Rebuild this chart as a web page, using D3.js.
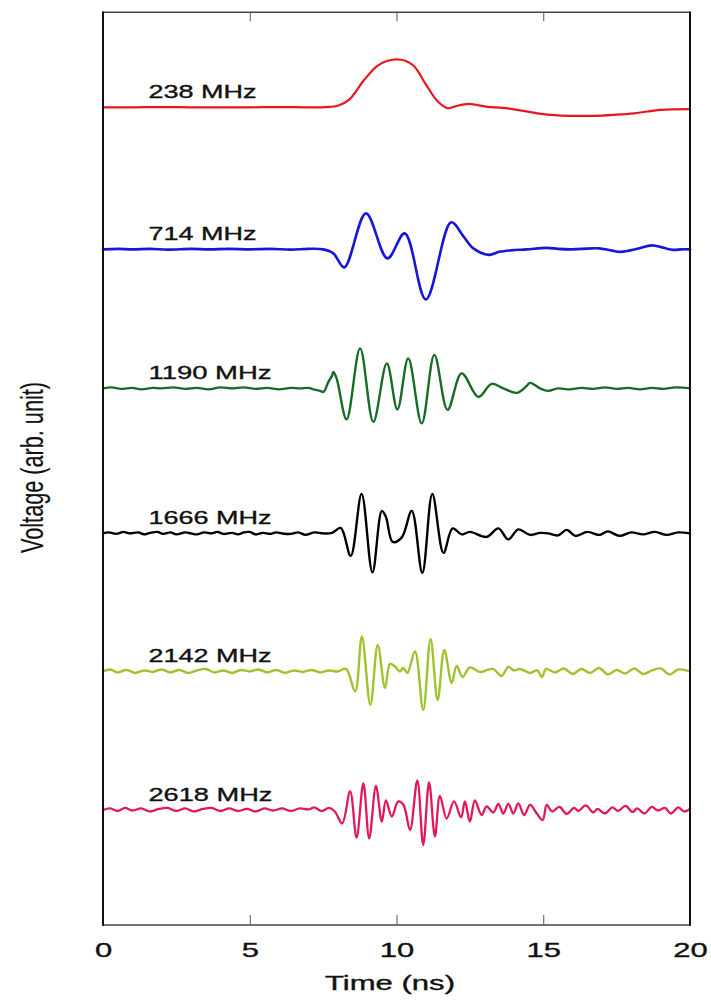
<!DOCTYPE html>
<html>
<head>
<meta charset="utf-8">
<script src="https://cdn.jsdelivr.net/npm/d3@7"></script>
<style>
  body { margin: 0; background: #fff; }
  text { font-family: "Liberation Sans", Arial, Helvetica, sans-serif; fill: #111; stroke: #111; stroke-width: 0.35px; }
</style>
</head>
<body>
<svg id="chart" width="711" height="1000"></svg>
<script>
// ---- data -------------------------------------------------------------
const xTicks = [0, 5, 10, 15, 20];
const seriesLabels = ["238 MHz", "714 MHz", "1190 MHz", "1666 MHz", "2142 MHz", "2618 MHz"];
// vertical offset of each trace (arb. unit)
const offsets = [16.35, 13.51, 10.73, 7.83, 5.07, 2.30];

// [time (ns), voltage (arb. unit)]
const wave238 = [[0,0],[1,0],[2,0.005],[3,0],[4,0],[5,0],[6,0.005],[7,0],[7.6,0.005],[8.0,0.03],[8.4,0.16],
  [8.9,0.55],[9.35,0.83],[9.7,0.93],[10.0,0.96],[10.3,0.93],[10.6,0.82],[11.0,0.46],[11.4,0.12],[11.75,-0.02],
  [12.0,0.02],[12.45,0.07],[12.8,0.04],[13.1,0.01],[13.8,-0.02],[14.8,-0.12],[15.5,-0.16],[16.1,-0.17],
  [16.7,-0.17],[17.4,-0.15],[18.1,-0.12],[19.0,-0.05],[20,-0.035]];

const wave714 = [[0,0],[0.5,0.01],[1,0],[1.6,0.01],[2.2,-0.005],[3,0.01],[3.6,0],[4.3,0.01],[5,0],[5.7,0.01],
  [6.4,-0.005],[7,0.01],[7.5,0],[7.85,-0.08],[8.22,-0.36],[8.96,0.72],[9.69,-0.18],[10.28,0.32],[11.0,-1.0],
  [11.86,0.54],[12.28,0.26],[12.62,0.02],[13.15,-0.11],[13.5,-0.05],[13.9,-0.02],[14.44,0],[15.12,0.03],
  [15.5,0.01],[15.9,0],[16.3,0.01],[16.9,0.02],[17.3,-0.02],[17.65,-0.05],[18.2,0.01],[18.7,0.08],[19.1,0.03],
  [19.42,-0.01],[19.7,0],[20,0]];

const wave1190 = [[0,0],[0.3,0.02],[0.6,-0.01],[1,0.01],[1.3,-0.02],[1.7,0.01],[2,0],[2.4,0.02],[2.8,-0.01],
  [3.2,0.01],[3.6,-0.02],[4,0.02],[4.4,0],[4.8,0.02],[5.2,-0.01],[5.6,0.01],[6.0,-0.02],[6.4,0.01],[6.71,0],
  [7.0,0.01],[7.17,-0.02],[7.4,-0.05],[7.51,-0.07],[7.68,0.13],[7.8,0.25],[7.85,0.33],[7.96,0.2],[8.30,-0.62],
  [8.76,0.80],[9.21,-0.67],[9.67,0.50],[10.03,-0.42],[10.40,0.60],[10.86,-0.70],[11.29,0.67],[11.74,-0.43],
  [12.22,0.30],[12.79,-0.17],[13.24,0.09],[13.64,0],[14.10,-0.09],[14.4,0.03],[14.55,0.11],[14.89,0],
  [15.17,-0.05],[15.5,0],[15.9,-0.02],[16.3,0.01],[16.7,-0.01],[17.1,0.02],[17.5,-0.01],[17.9,0.01],
  [18.3,-0.02],[18.7,0.01],[19.1,-0.01],[19.5,0.02],[20,0]];

const wave1666 = [[0,0],[0.2,0.02],[0.45,-0.01],[0.7,0.03],[0.9,0],[1.2,0.02],[1.4,-0.02],[1.6,0.01],[1.85,0.03],
  [2.05,-0.01],[2.3,0.02],[2.5,-0.02],[2.8,0.02],[3.0,0],[3.2,-0.02],[3.45,0.02],[3.7,0],[3.9,0.03],[4.1,-0.01],
  [4.4,0.01],[4.6,-0.02],[4.8,0.02],[5.0,0.03],[5.2,-0.02],[5.45,0.01],[5.7,-0.01],[5.9,0.02],[6.1,0],
  [6.4,-0.01],[6.65,0.02],[6.9,-0.03],[7.2,0.02],[7.5,0],[7.8,0.01],[8.10,0.11],[8.44,-0.45],[8.81,0.79],
  [9.18,-0.78],[9.50,0.45],[9.64,0.33],[9.87,-0.17],[10.18,-0.08],[10.52,0.45],[10.88,-0.79],[11.22,0.79],
  [11.60,-0.39],[11.91,0.10],[12.22,-0.02],[12.50,0.03],[13.07,-0.07],[13.47,0.10],[13.81,-0.12],[14.15,0.08],
  [14.55,-0.03],[14.89,0.01],[15.17,0],[15.5,-0.04],[15.8,0.07],[16.1,-0.05],[16.5,0.03],[16.9,-0.03],
  [17.2,0.04],[17.6,-0.05],[18.0,0.02],[18.4,-0.02],[18.8,0.03],[19.2,-0.03],[19.6,0.02],[20,0]];

const wave2142 = [[0,0],[0.25,0.04],[0.5,-0.02],[0.8,0.03],[1.1,-0.03],[1.4,0.02],[1.7,-0.01],[2.0,0.04],
  [2.3,-0.02],[2.6,0.03],[2.9,-0.03],[3.2,0.02],[3.5,0.05],[3.8,-0.02],[4.1,0.02],[4.4,-0.03],[4.7,0.03],
  [5.0,0],[5.3,0.04],[5.6,-0.02],[5.9,0.03],[6.2,-0.03],[6.5,0.02],[6.8,-0.01],[7.1,0.03],[7.4,-0.02],
  [7.7,0.02],[8.0,0],[8.28,0.05],[8.59,-0.40],[8.82,0.70],[9.11,-0.67],[9.36,0.53],[9.61,-0.33],[9.78,0.15],
  [9.95,0.10],[10.12,0],[10.23,0.07],[10.37,-0.03],[10.63,0.40],[10.91,-0.77],[11.16,0.65],[11.40,-0.57],
  [11.63,0.43],[11.88,-0.23],[12.05,0.11],[12.25,-0.11],[12.50,0.08],[12.85,-0.01],[13.10,0.03],[13.30,0.05],
  [13.58,-0.09],[13.81,0.09],[14.0,0.02],[14.21,0.05],[14.55,-0.03],[14.8,0.02],[14.95,-0.11],[15.1,0.05],
  [15.4,-0.02],[15.7,0.06],[16.0,-0.05],[16.3,0.05],[16.6,-0.03],[16.9,0.07],[17.2,-0.06],[17.5,0.03],
  [17.8,-0.04],[18.1,0.06],[18.4,-0.05],[18.7,0.02],[19.0,0.06],[19.3,-0.06],[19.6,0.04],[20,0]];

const wave2618 = [[0,0],[0.25,0.03],[0.5,-0.02],[0.75,0.04],[1.0,-0.01],[1.3,0.03],[1.6,-0.03],[1.9,0.02],
  [2.2,0.04],[2.5,-0.02],[2.8,0.03],[3.1,-0.03],[3.4,0.02],[3.7,0.04],[4.0,-0.02],[4.3,0.03],[4.6,-0.02],
  [4.9,0.02],[5.2,-0.03],[5.5,0.03],[5.8,-0.01],[6.1,0.03],[6.4,-0.02],[6.7,0.03],[7.0,0.01],[7.2,0.05],
  [7.45,-0.02],[7.7,0.04],[7.9,-0.03],[8.15,-0.27],[8.42,0.37],[8.64,-0.55],[8.87,0.53],[9.07,-0.57],
  [9.30,0.48],[9.50,-0.23],[9.64,0.19],[9.84,-0.13],[10.06,0.17],[10.24,0.10],[10.46,-0.40],[10.71,0.59],
  [10.91,-0.70],[11.11,0.55],[11.31,-0.53],[11.48,0.28],[11.71,-0.17],[11.96,0.17],[12.2,-0.15],[12.33,0.17],
  [12.50,-0.23],[12.67,0.19],[12.90,-0.10],[13.07,0.07],[13.30,-0.05],[13.47,0.12],[13.64,-0.07],[13.81,0.12],
  [13.98,-0.07],[14.15,0.13],[14.35,-0.10],[14.55,0.10],[14.78,-0.07],[14.98,-0.20],[15.12,0.10],[15.3,-0.03],
  [15.55,0.06],[15.8,-0.08],[16.05,0.04],[16.2,-0.02],[16.45,0.09],[16.7,-0.05],[16.85,0.02],[17.1,-0.07],
  [17.35,0.05],[17.55,-0.02],[17.8,0.08],[18.05,-0.04],[18.2,0.03],[18.45,-0.07],[18.7,0.06],[18.9,-0.01],
  [19.15,0.04],[19.35,-0.07],[19.6,0.05],[19.8,-0.03],[20,0.02]];

const waves = [wave238, wave714, wave1190, wave1666, wave2142, wave2618];

// ---- styling ----------------------------------------------------------
const colors = ["#e8171c", "#1717d6", "#176b26", "#000000", "#9dc32f", "#e0185c"];
const widths = [2.2, 2.6, 2.4, 2.4, 2.4, 2.3];
const labelLengths = [108, 108, 123, 123, 123, 124];

const plot = { left: 103, right: 690, top: 12.3, bottom: 925 };

const svg = d3.select("#chart");

const x = d3.scaleLinear().domain([0, 20]).range([plot.left, plot.right]);
const y = d3.scaleLinear().domain([0, 18.25]).range([plot.bottom, plot.top]);

// ---- traces -------------------------------------------------------------
const traces = svg.append("g").attr("class", "traces");
waves.forEach((w, i) => {
  const line = d3.line()
    .x(d => x(d[0]))
    .y(d => y(offsets[i] + d[1]))
    .curve(d3.curveCatmullRom.alpha(0.5));
  traces.append("path")
    .datum(w)
    .attr("d", line)
    .attr("fill", "none")
    .attr("stroke", colors[i])
    .attr("stroke-width", widths[i])
    .attr("stroke-linejoin", "round")
    .attr("stroke-linecap", "round");
});

// ---- trace labels -------------------------------------------------------
svg.append("g").attr("class", "labels")
  .selectAll("text")
  .data(seriesLabels)
  .join("text")
  .attr("x", x(1.55))
  .attr("y", (d, i) => y(offsets[i]) - 9)
  .attr("font-size", 19)
  .attr("textLength", (d, i) => labelLengths[i])
  .attr("lengthAdjust", "spacingAndGlyphs")
  .text(d => d);

// ---- axes & frame -------------------------------------------------------
const bottomAxis = d3.axisBottom(x).tickValues(xTicks).tickSizeInner(-10).tickSizeOuter(0).tickFormat(d3.format("d"));
const gb = svg.append("g").attr("transform", `translate(0,${plot.bottom})`).call(bottomAxis);
gb.select(".domain").remove();
gb.selectAll(".tick line").attr("stroke", "#555").attr("stroke-width", 1)
  .filter(d => d === 0 || d === 20).remove();
gb.selectAll(".tick text")
  .attr("y", 32).attr("dy", null)
  .attr("font-size", 20).attr("font-family", null).attr("fill", "#111")
  .attr("transform", "scale(1.55,1)");

const topAxis = d3.axisTop(x).tickValues([5, 10, 15]).tickSizeInner(-9).tickSizeOuter(0).tickFormat("");
const gt = svg.append("g").attr("transform", `translate(0,${plot.top})`).call(topAxis);
gt.select(".domain").remove();
gt.selectAll(".tick line").attr("stroke", "#555").attr("stroke-width", 1);

const frame = svg.append("g").attr("class", "frame");
frame.append("line").attr("x1", plot.left).attr("x2", plot.right).attr("y1", plot.top).attr("y2", plot.top)
  .attr("stroke", "#444").attr("stroke-width", 1.4);
frame.append("line").attr("x1", plot.left).attr("x2", plot.right).attr("y1", plot.bottom).attr("y2", plot.bottom)
  .attr("stroke", "#444").attr("stroke-width", 1.4);
frame.append("line").attr("x1", plot.left).attr("x2", plot.left).attr("y1", plot.top - 0.7).attr("y2", plot.bottom + 0.7)
  .attr("stroke", "#111").attr("stroke-width", 2);
frame.append("line").attr("x1", plot.right).attr("x2", plot.right).attr("y1", plot.top - 0.7).attr("y2", plot.bottom + 0.7)
  .attr("stroke", "#111").attr("stroke-width", 2);

// ---- axis titles --------------------------------------------------------
svg.append("text")
  .attr("x", 390).attr("y", 990)
  .attr("text-anchor", "middle")
  .attr("font-size", 19.5)
  .attr("textLength", 130).attr("lengthAdjust", "spacingAndGlyphs")
  .text("Time (ns)");

svg.append("text")
  .attr("transform", "translate(43,467.5) scale(1.5,1) rotate(-90)")
  .attr("text-anchor", "middle")
  .attr("font-size", 21)
  .style("stroke-width", "0.1px")
  .attr("textLength", 171).attr("lengthAdjust", "spacingAndGlyphs")
  .text("Voltage (arb. unit)");
</script>
</body>
</html>
